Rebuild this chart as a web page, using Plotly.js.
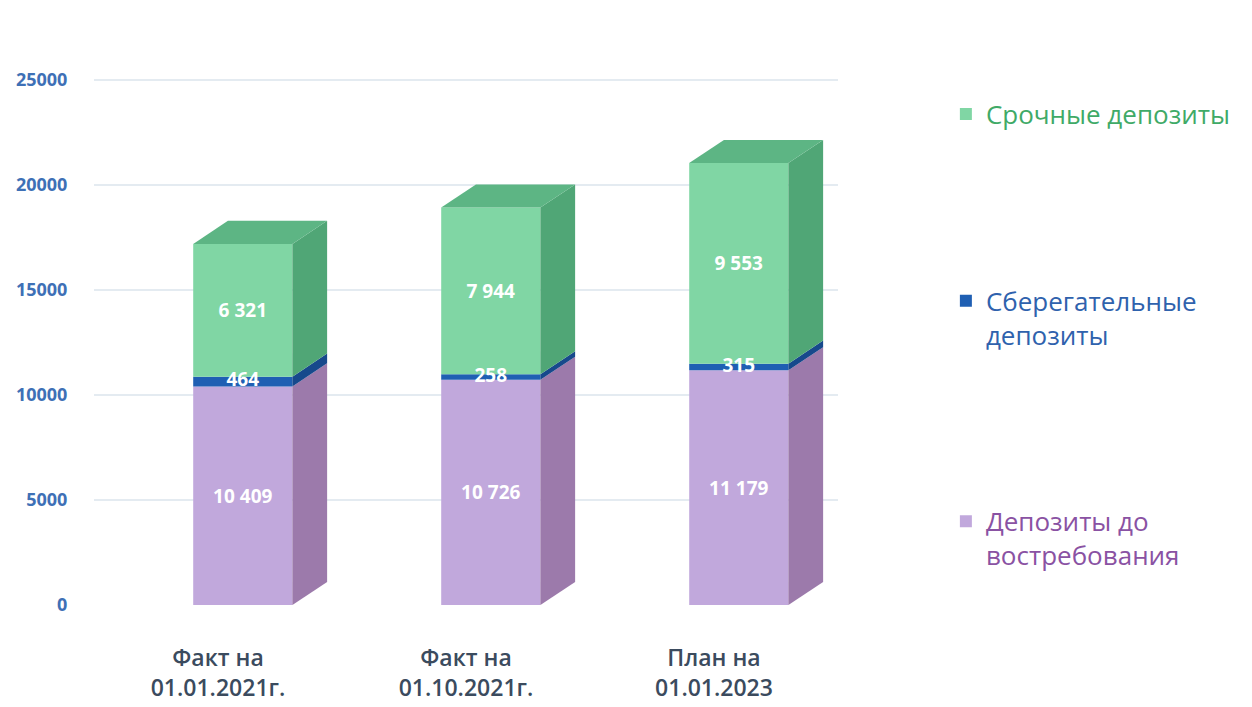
<!DOCTYPE html>
<html>
<head>
<meta charset="utf-8">
<script src="https://cdn.plot.ly/plotly-3.0.1.min.js"></script>
<style>html,body{margin:0;padding:0;background:#ffffff;}#chart{width:1252px;height:707px;}</style>
</head>
<body>
<div id="chart"></div>
<script>
const categories = ["Факт на<br>01.01.2021г.", "Факт на<br>01.10.2021г.", "План на<br>01.01.2023"];
const demandDeposits = [10409, 10726, 11179];   // Депозиты до востребования
const savingsDeposits = [464, 258, 315];        // Сберегательные депозиты
const termDeposits = [6321, 7944, 9553];        // Срочные депозиты
const yTickVals = [0, 5000, 10000, 15000, 20000, 25000];
const yTickText = ["0", "5000", "10000", "15000", "20000", "25000"];

const seriesNames = [
  '<span style="color:#8a52a3">Депозиты до<br>востребования</span>',
  '<span style="color:#2f62ad">Сберегательные<br>депозиты</span>',
  '<span style="color:#3faa67">Срочные депозиты</span>'
];
const frontColors = ["#c1a8dc", "#1f5fb3", "#80d6a4"];
const sideColors = ["#9c7aab", "#17498c", "#50a676"];
const topColor = "#5db584";

function fmt(n) { return String(n).replace(/\B(?=(\d{3})+(?!\d))/g, " "); }

const xPos = categories.map((c, i) => i);
const series = [demandDeposits, savingsDeposits, termDeposits];
const bases = [
  demandDeposits.map(() => 0),
  demandDeposits.slice(),
  demandDeposits.map((d, i) => d + savingsDeposits[i])
];
const totals = demandDeposits.map((d, i) => d + savingsDeposits[i] + termDeposits[i]);

// pseudo-3D styling constants
const DEPTH = 1100, DX = 0.14, W = 0.4, OFF = -0.1;

const traces = [];
// side faces (parallelograms derived from the data)
series.forEach((vals, k) => {
  vals.forEach((v, i) => {
    const xr = xPos[i] + OFF + W;
    const b = bases[k][i], t = b + v;
    traces.push({
      type: "scatter", mode: "lines", fill: "toself",
      x: [xr, xr + DX, xr + DX, xr, xr],
      y: [b, b + DEPTH, t + DEPTH, t, b],
      line: { width: 0, color: sideColors[k] }, fillcolor: sideColors[k],
      showlegend: false, hoverinfo: "skip"
    });
  });
});
// top faces
totals.forEach((T, i) => {
  const xl = xPos[i] + OFF, xr = xl + W;
  traces.push({
    type: "scatter", mode: "lines", fill: "toself",
    x: [xl, xl + DX, xr + DX, xr, xl],
    y: [T, T + DEPTH, T + DEPTH, T, T],
    line: { width: 0, color: topColor }, fillcolor: topColor,
    showlegend: false, hoverinfo: "skip"
  });
});
// front faces (legend entries)
const legendRanks = [3, 2, 1];
series.forEach((vals, k) => {
  traces.push({
    type: "bar", x: xPos, y: vals, base: bases[k],
    width: W, offset: OFF,
    name: seriesNames[k], legendgroup: "g" + k, legendrank: legendRanks[k],
    marker: { color: frontColors[k], line: { width: 0 } },
    text: k === 1 ? null : vals.map(fmt),
    textposition: k === 1 ? "none" : "inside",
    insidetextanchor: "middle",
    textfont: { family: "Open Sans", size: 19, color: "#ffffff", weight: "bold" },
    hoverinfo: "y"
  });
});
// label for thin savings segment
traces.push({
  type: "scatter", mode: "text",
  x: xPos.map(x => x + OFF + W / 2),
  y: demandDeposits.map((d, i) => d + savingsDeposits[i] / 2),
  text: savingsDeposits.map(fmt),
  textposition: "middle center",
  textfont: { family: "Open Sans", size: 19, color: "#ffffff", weight: "bold" },
  showlegend: false, hoverinfo: "skip", cliponaxis: false
});

const layout = {
  width: 1252, height: 707,
  margin: { l: 94, r: 414, t: 17, b: 102 },
  paper_bgcolor: "#ffffff", plot_bgcolor: "#ffffff",
  barmode: "overlay",
  showlegend: true,
  legend: {
    x: 1.145, xanchor: "left", y: 0.875, yanchor: "top",
    traceorder: "grouped", tracegroupgap: 150, valign: "top",
    font: { family: "Open Sans", size: 26 },
    bgcolor: "rgba(0,0,0,0)", itemwidth: 30
  },
  xaxis: {
    range: [-0.5, 2.5],
    tickvals: xPos, ticktext: categories,
    showgrid: false, zeroline: false, showline: false,
    ticks: "outside", ticklen: 32, tickcolor: "rgba(0,0,0,0)",
    tickfont: { family: "Open Sans", size: 23, color: "#3b4b5e", weight: 600 }
  },
  yaxis: {
    range: [0, 28000],
    tickvals: yTickVals, ticktext: yTickText,
    showgrid: true, gridcolor: "#e4ebf1", gridwidth: 1.5,
    zeroline: false, showline: false,
    ticks: "outside", ticklen: 22, tickcolor: "rgba(0,0,0,0)",
    tickfont: { family: "Open Sans", size: 18, color: "#3e70b6", weight: "bold" }
  }
};

Plotly.newPlot("chart", traces, layout, { displayModeBar: false, staticPlot: true });
</script>
</body>
</html>
